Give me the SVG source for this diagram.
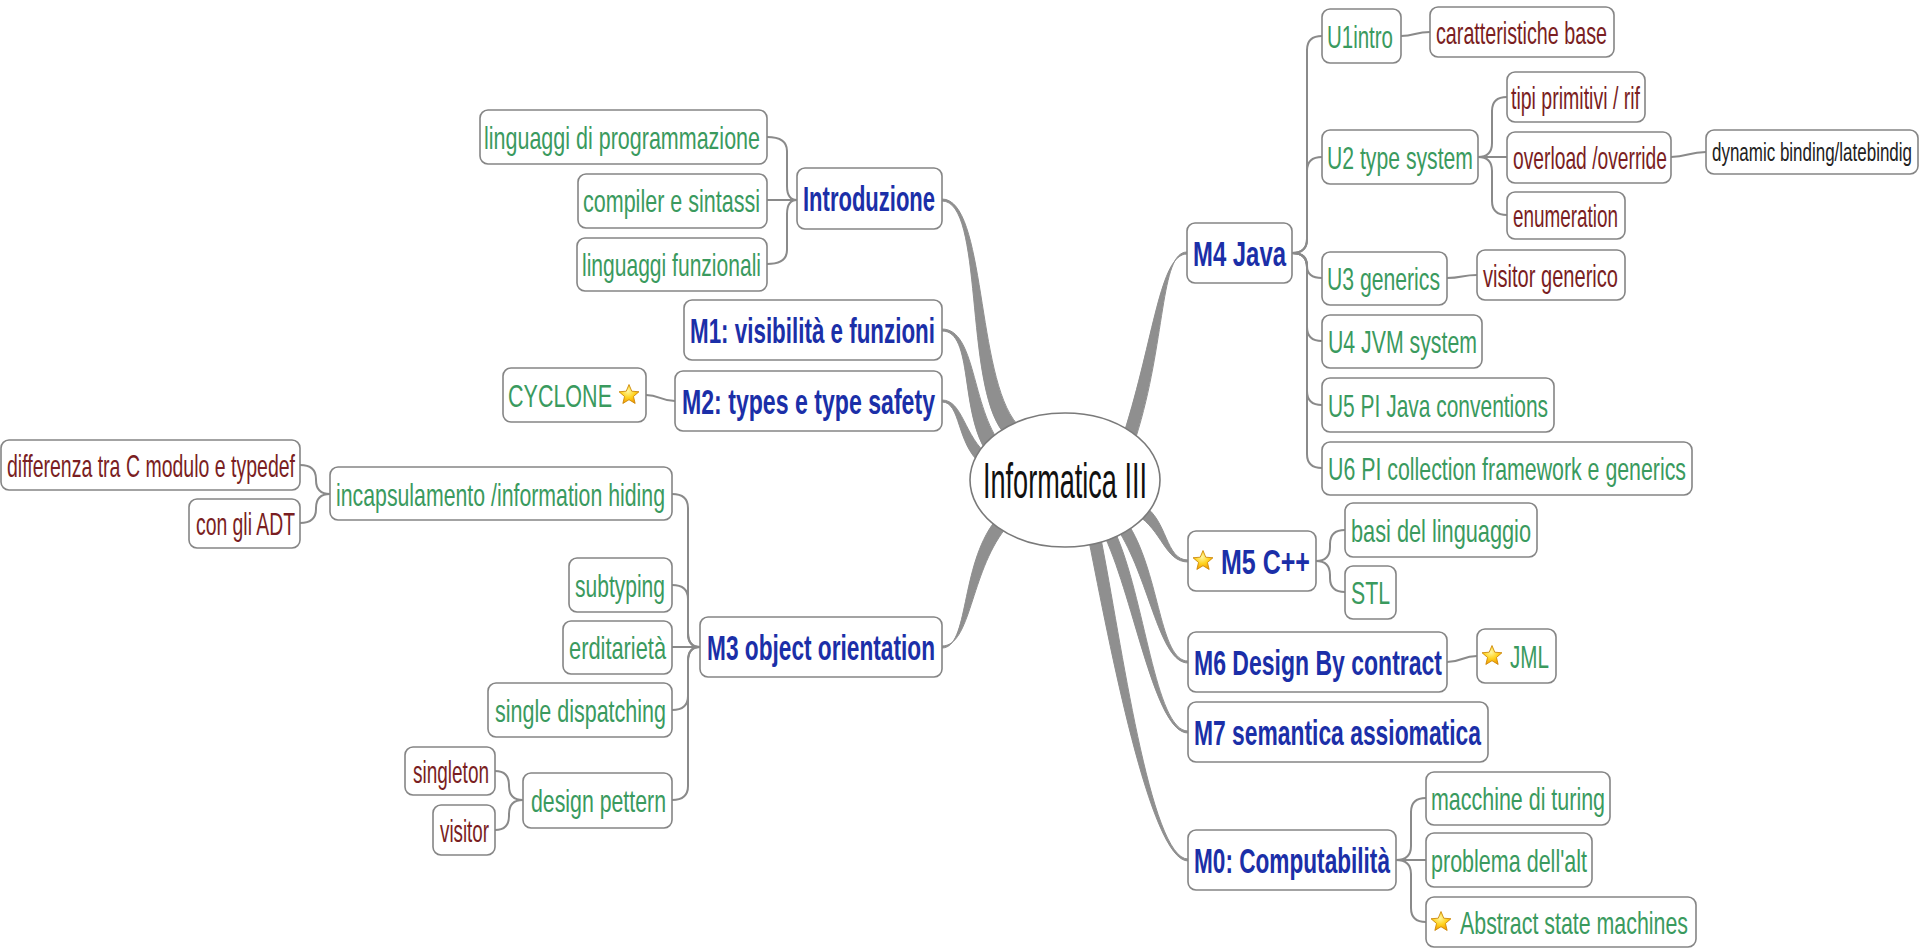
<svg xmlns="http://www.w3.org/2000/svg" xmlns:xlink="http://www.w3.org/1999/xlink" width="1920" height="948" viewBox="0 0 1920 948">
<defs>
<radialGradient id="starGrad" cx="0.45" cy="0.35" r="0.7">
<stop offset="0" stop-color="#fff7a0"/>
<stop offset="0.5" stop-color="#ffd21e"/>
<stop offset="1" stop-color="#f09000"/>
</radialGradient>
<symbol id="star" viewBox="-11 -11 22 22" overflow="visible">
<polygon points="0,-10 2.65,-3.64 9.51,-3.09 4.28,1.39 5.88,8.09 0,4.5 -5.88,8.09 -4.28,1.39 -9.51,-3.09 -2.65,-3.64" fill="url(#starGrad)" stroke="#c98200" stroke-width="0.8" stroke-linejoin="round"/>
</symbol>
</defs>
<style>
.box{fill:#ffffff;stroke:#858585;stroke-width:1.6}
.t{font-family:"Liberation Sans",Arial,sans-serif}
.g{fill:#3a9a5e;font-size:32px}
.r{fill:#7a1e22;font-size:32px}
.b{fill:#1b2fa8;font-size:35px;font-weight:bold}
.k{fill:#222222;font-size:26px}
.c{fill:none;stroke:#8a8a8a;stroke-width:2}
.main{fill:#8f8f8f;stroke:#8f8f8f;stroke-width:1}
</style>
<rect width="1920" height="948" fill="#ffffff"/>

<g id="connectors">
<path class="main" d="M942,199 C986,199 976,377 1017,424 L1003,432 C964,383 984,201 942,201 Z"/>
<path class="main" d="M942,329 C976,329 971,407 1002,446 L988,454 C959,413 974,331 942,331 Z"/>
<path class="main" d="M942,400 C963,400 964,437 989,456 L981,464 C956,443 961,402 942,402 Z"/>
<path class="main" d="M942,646 C971,646 970,574 1005,529 L995,521 C960,566 969,648 942,648 Z"/>
<path class="main" d="M1187,252 C1160,252 1166,342 1136,437 L1124,433 C1154,338 1160,254 1187,254 Z"/>
<path class="main" d="M1188,560 C1165,560 1168,520 1143,505 L1137,515 C1162,530 1165,562 1188,562 Z"/>
<path class="main" d="M1188,661 C1160,661 1160,577 1130,527 L1120,533 C1150,583 1160,663 1188,663 Z"/>
<path class="main" d="M1188,731 C1155,731 1145,597 1115,532 L1105,537 C1135,603 1155,733 1188,733 Z"/>
<path class="main" d="M1188,859 C1150,859 1121,639 1101,539 L1089,541 C1109,641 1150,861 1188,861 Z"/>
<path class="c" d="M1292,253 Q1307,253 1307,239 L1307,50 Q1307,36 1322,36"/>
<path class="c" d="M1292,253 Q1307,253 1307,239 L1307,171 Q1307,157 1322,157"/>
<path class="c" d="M1292,253 Q1307,253 1307,265 L1307,266 Q1307,278 1322,278"/>
<path class="c" d="M1292,253 Q1307,253 1307,267 L1307,327 Q1307,341 1322,341"/>
<path class="c" d="M1292,253 Q1307,253 1307,267 L1307,391 Q1307,405 1322,405"/>
<path class="c" d="M1292,253 Q1307,253 1307,267 L1307,454 Q1307,468 1322,468"/>
<path class="c" d="M1401,36 C1415,36 1415,32 1430,32"/>
<path class="c" d="M1478,157 Q1492,157 1492,143 L1492,111 Q1492,97 1507,97"/>
<path class="c" d="M1478,157 L1507,157"/>
<path class="c" d="M1478,157 Q1492,157 1492,171 L1492,201 Q1492,215 1507,215"/>
<path class="c" d="M1671,157 C1688,157 1688,152 1706,152"/>
<path class="c" d="M1447,278 C1462,278 1462,275 1477,275"/>
<path class="c" d="M1316,561 Q1330,561 1330,547 L1330,544 Q1330,530 1345,530"/>
<path class="c" d="M1316,561 Q1330,561 1330,575 L1330,578 Q1330,592 1345,592"/>
<path class="c" d="M1447,662 C1462,662 1462,656 1477,656"/>
<path class="c" d="M1396,860 Q1411,860 1411,846 L1411,812 Q1411,798 1426,798"/>
<path class="c" d="M1396,860 L1426,860"/>
<path class="c" d="M1396,860 Q1411,860 1411,874 L1411,908 Q1411,922 1426,922"/>
<path class="c" d="M797,200 Q787,200 787,186 L787,151 Q787,137 767,137"/>
<path class="c" d="M797,200 L767,200"/>
<path class="c" d="M797,200 Q787,200 787,214 L787,250 Q787,264 767,264"/>
<path class="c" d="M675,401 C660,401 660,395 646,395"/>
<path class="c" d="M700,647 Q688,647 688,633 L688,508 Q688,494 672,494"/>
<path class="c" d="M700,647 Q688,647 688,633 L688,599 Q688,585 672,585"/>
<path class="c" d="M700,647 L672,647"/>
<path class="c" d="M700,647 Q688,647 688,661 L688,696 Q688,710 672,710"/>
<path class="c" d="M700,647 Q688,647 688,661 L688,786 Q688,800 672,800"/>
<path class="c" d="M330,494 Q316,494 316,480 L316,479 Q316,465 300,465"/>
<path class="c" d="M330,494 Q316,494 316,508 L316,509 Q316,523 300,523"/>
<path class="c" d="M523,800 Q509,800 509,786 L509,785 Q509,771 495,771"/>
<path class="c" d="M523,800 Q509,800 509,814 L509,816 Q509,830 495,830"/>
</g>

<g id="central">
<ellipse cx="1065" cy="480" rx="95" ry="67" fill="#ffffff" stroke="#7a7a7a" stroke-width="1.6"/>
<text class="t" transform="translate(983,498) scale(0.55,1)" font-size="50" fill="#111111" textLength="298.2" lengthAdjust="spacingAndGlyphs">Informatica III</text>
</g>

<g id="n-ling-prog"><rect class="box" x="480" y="110" width="287" height="54" rx="8"/><text class="t g" transform="translate(484,149) scale(0.6,1)" textLength="460" lengthAdjust="spacingAndGlyphs">linguaggi di programmazione</text></g>
<g id="n-compiler"><rect class="box" x="578" y="174" width="189" height="54" rx="8"/><text class="t g" transform="translate(583,212) scale(0.6,1)" textLength="295" lengthAdjust="spacingAndGlyphs">compiler e sintassi</text></g>
<g id="n-ling-funz"><rect class="box" x="577" y="238" width="190" height="53" rx="8"/><text class="t g" transform="translate(582,276) scale(0.6,1)" textLength="298.3" lengthAdjust="spacingAndGlyphs">linguaggi funzionali</text></g>
<g id="n-intro"><rect class="box" x="797" y="168" width="145" height="61" rx="8"/><text class="t b" transform="translate(803,211) scale(0.58,1)" textLength="227.6" lengthAdjust="spacingAndGlyphs">Introduzione</text></g>
<g id="n-m1"><rect class="box" x="684" y="300" width="258" height="60" rx="8"/><text class="t b" transform="translate(690,343) scale(0.58,1)" textLength="422.4" lengthAdjust="spacingAndGlyphs">M1: visibilità e funzioni</text></g>
<g id="n-m2"><rect class="box" x="675" y="371" width="267" height="60" rx="8"/><text class="t b" transform="translate(682,414) scale(0.58,1)" textLength="436.2" lengthAdjust="spacingAndGlyphs">M2: types e type safety</text></g>
<g id="n-cyclone"><rect class="box" x="503" y="368" width="143" height="54" rx="8"/><text class="t g" transform="translate(508,407) scale(0.6,1)" textLength="173.3" lengthAdjust="spacingAndGlyphs">CYCLONE</text><use xlink:href="#star" x="617.5" y="383.5" width="23" height="23"/></g>
<g id="n-differenza"><rect class="box" x="1" y="440" width="299" height="50" rx="8"/><text class="t r" transform="translate(7,477) scale(0.6,1)" textLength="480" lengthAdjust="spacingAndGlyphs">differenza tra C modulo e typedef</text></g>
<g id="n-adt"><rect class="box" x="189" y="499" width="111" height="49" rx="8"/><text class="t r" transform="translate(196,535) scale(0.6,1)" textLength="165" lengthAdjust="spacingAndGlyphs">con gli ADT</text></g>
<g id="n-incaps"><rect class="box" x="330" y="467" width="342" height="53" rx="8"/><text class="t g" transform="translate(336,506) scale(0.6,1)" textLength="548.3" lengthAdjust="spacingAndGlyphs">incapsulamento /information hiding</text></g>
<g id="n-subtyping"><rect class="box" x="569" y="558" width="103" height="54" rx="8"/><text class="t g" transform="translate(575,597) scale(0.6,1)" textLength="150" lengthAdjust="spacingAndGlyphs">subtyping</text></g>
<g id="n-erditarieta"><rect class="box" x="563" y="621" width="109" height="53" rx="8"/><text class="t g" transform="translate(569,659) scale(0.6,1)" textLength="161.7" lengthAdjust="spacingAndGlyphs">erditarietà</text></g>
<g id="n-single"><rect class="box" x="488" y="683" width="184" height="54" rx="8"/><text class="t g" transform="translate(495,722) scale(0.6,1)" textLength="285" lengthAdjust="spacingAndGlyphs">single dispatching</text></g>
<g id="n-design"><rect class="box" x="523" y="773" width="149" height="55" rx="8"/><text class="t g" transform="translate(531,812) scale(0.6,1)" textLength="225" lengthAdjust="spacingAndGlyphs">design pettern</text></g>
<g id="n-singleton"><rect class="box" x="405" y="747" width="90" height="48" rx="8"/><text class="t r" transform="translate(413,783) scale(0.6,1)" textLength="126.7" lengthAdjust="spacingAndGlyphs">singleton</text></g>
<g id="n-visitor"><rect class="box" x="433" y="805" width="62" height="50" rx="8"/><text class="t r" transform="translate(440,842) scale(0.6,1)" textLength="81.7" lengthAdjust="spacingAndGlyphs">visitor</text></g>
<g id="n-m3"><rect class="box" x="700" y="617" width="242" height="60" rx="8"/><text class="t b" transform="translate(707,660) scale(0.58,1)" textLength="393.1" lengthAdjust="spacingAndGlyphs">M3 object orientation</text></g>

<g id="n-m4"><rect class="box" x="1187" y="223" width="105" height="60" rx="8"/><text class="t b" transform="translate(1193,266) scale(0.58,1)" textLength="160.3" lengthAdjust="spacingAndGlyphs">M4 Java</text></g>
<g id="n-u1"><rect class="box" x="1322" y="9" width="79" height="54" rx="8"/><text class="t g" transform="translate(1327,48) scale(0.6,1)" textLength="110" lengthAdjust="spacingAndGlyphs">U1intro</text></g>
<g id="n-caratt"><rect class="box" x="1430" y="7" width="184" height="50" rx="8"/><text class="t r" transform="translate(1436,44) scale(0.6,1)" textLength="285" lengthAdjust="spacingAndGlyphs">caratteristiche base</text></g>
<g id="n-u2"><rect class="box" x="1322" y="130" width="156" height="54" rx="8"/><text class="t g" transform="translate(1327,169) scale(0.6,1)" textLength="243.3" lengthAdjust="spacingAndGlyphs">U2 type system</text></g>
<g id="n-tipi"><rect class="box" x="1507" y="72" width="138" height="50" rx="8"/><text class="t r" transform="translate(1511,109) scale(0.6,1)" textLength="215" lengthAdjust="spacingAndGlyphs">tipi primitivi / rif</text></g>
<g id="n-overload"><rect class="box" x="1507" y="132" width="164" height="51" rx="8"/><text class="t r" transform="translate(1513,169) scale(0.6,1)" textLength="256.7" lengthAdjust="spacingAndGlyphs">overload /override</text></g>
<g id="n-dynamic"><rect class="box" x="1706" y="130" width="212" height="44" rx="8"/><text class="t k" transform="translate(1712,161) scale(0.58,1)" textLength="344.8" lengthAdjust="spacingAndGlyphs">dynamic binding/latebindig</text></g>
<g id="n-enum"><rect class="box" x="1507" y="192" width="118" height="47" rx="8"/><text class="t r" transform="translate(1513,227) scale(0.6,1)" textLength="175" lengthAdjust="spacingAndGlyphs">enumeration</text></g>
<g id="n-u3"><rect class="box" x="1322" y="252" width="125" height="53" rx="8"/><text class="t g" transform="translate(1327,290) scale(0.6,1)" textLength="188.3" lengthAdjust="spacingAndGlyphs">U3 generics</text></g>
<g id="n-visgen"><rect class="box" x="1477" y="250" width="148" height="50" rx="8"/><text class="t r" transform="translate(1483,287) scale(0.6,1)" textLength="225" lengthAdjust="spacingAndGlyphs">visitor generico</text></g>
<g id="n-u4"><rect class="box" x="1322" y="315" width="160" height="53" rx="8"/><text class="t g" transform="translate(1328,353) scale(0.6,1)" textLength="248.3" lengthAdjust="spacingAndGlyphs">U4 JVM system</text></g>
<g id="n-u5"><rect class="box" x="1322" y="378" width="232" height="54" rx="8"/><text class="t g" transform="translate(1328,417) scale(0.6,1)" textLength="366.7" lengthAdjust="spacingAndGlyphs">U5 PI Java conventions</text></g>
<g id="n-u6"><rect class="box" x="1322" y="442" width="370" height="53" rx="8"/><text class="t g" transform="translate(1328,480) scale(0.6,1)" textLength="596.7" lengthAdjust="spacingAndGlyphs">U6 PI collection framework e generics</text></g>
<g id="n-m5"><rect class="box" x="1188" y="531" width="128" height="60" rx="8"/><use xlink:href="#star" x="1191.5" y="549.5" width="23" height="23"/><text class="t b" transform="translate(1221,574) scale(0.58,1)" textLength="153.4" lengthAdjust="spacingAndGlyphs">M5 C++</text></g>
<g id="n-basi"><rect class="box" x="1345" y="503" width="192" height="54" rx="8"/><text class="t g" transform="translate(1351,542) scale(0.6,1)" textLength="300" lengthAdjust="spacingAndGlyphs">basi del linguaggio</text></g>
<g id="n-stl"><rect class="box" x="1345" y="566" width="51" height="53" rx="8"/><text class="t g" transform="translate(1351,604) scale(0.6,1)" textLength="65" lengthAdjust="spacingAndGlyphs">STL</text></g>
<g id="n-m6"><rect class="box" x="1188" y="632" width="259" height="60" rx="8"/><text class="t b" transform="translate(1194,675) scale(0.58,1)" textLength="427.6" lengthAdjust="spacingAndGlyphs">M6 Design By contract</text></g>
<g id="n-jml"><rect class="box" x="1477" y="629" width="79" height="54" rx="8"/><use xlink:href="#star" x="1480.5" y="644.5" width="23" height="23"/><text class="t g" transform="translate(1510,668) scale(0.6,1)" textLength="65" lengthAdjust="spacingAndGlyphs">JML</text></g>
<g id="n-m7"><rect class="box" x="1188" y="702" width="300" height="60" rx="8"/><text class="t b" transform="translate(1194,745) scale(0.58,1)" textLength="494.8" lengthAdjust="spacingAndGlyphs">M7 semantica assiomatica</text></g>
<g id="n-m0"><rect class="box" x="1188" y="830" width="208" height="60" rx="8"/><text class="t b" transform="translate(1194,873) scale(0.58,1)" textLength="337.9" lengthAdjust="spacingAndGlyphs">M0: Computabilità</text></g>
<g id="n-macchine"><rect class="box" x="1426" y="772" width="184" height="53" rx="8"/><text class="t g" transform="translate(1431,810) scale(0.6,1)" textLength="290" lengthAdjust="spacingAndGlyphs">macchine di turing</text></g>
<g id="n-problema"><rect class="box" x="1426" y="833" width="166" height="54" rx="8"/><text class="t g" transform="translate(1431,872) scale(0.6,1)" textLength="260" lengthAdjust="spacingAndGlyphs">problema dell'alt</text></g>
<g id="n-asm"><rect class="box" x="1426" y="897" width="270" height="50" rx="8"/><use xlink:href="#star" x="1429.5" y="910.5" width="23" height="23"/><text class="t g" transform="translate(1460,934) scale(0.6,1)" textLength="380" lengthAdjust="spacingAndGlyphs">Abstract state machines</text></g>
</svg>
